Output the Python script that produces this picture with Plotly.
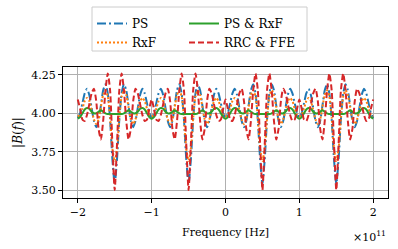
import plotly.graph_objects as go

# Frequency in units of 1e11 Hz, step 1/32
freq = [-2 + k / 32 for k in range(129)]

ps = [
    3.97, 4.00, 4.065, 4.13, 4.16, 4.12, 4.035, 3.95, 3.91, 3.95, 4.05, 4.15, 4.19, 4.13, 3.96, 3.70,
    3.54, 3.70, 3.96, 4.13, 4.19, 4.15, 4.05, 3.95, 3.91, 3.95, 4.035, 4.12, 4.16, 4.13, 4.065, 4.00,
    3.97, 4.00, 4.065, 4.13, 4.16, 4.12, 4.035, 3.95, 3.91, 3.95, 4.05, 4.15, 4.19, 4.13, 3.96, 3.70,
    3.54, 3.70, 3.96, 4.13, 4.19, 4.15, 4.05, 3.95, 3.91, 3.95, 4.035, 4.12, 4.16, 4.13, 4.065, 4.00,
    3.97, 4.00, 4.065, 4.13, 4.16, 4.12, 4.035, 3.95, 3.91, 3.95, 4.05, 4.15, 4.19, 4.13, 3.96, 3.70,
    3.54, 3.70, 3.96, 4.13, 4.19, 4.15, 4.05, 3.95, 3.91, 3.95, 4.035, 4.12, 4.16, 4.13, 4.065, 4.00,
    3.97, 4.00, 4.065, 4.13, 4.16, 4.12, 4.035, 3.95, 3.91, 3.95, 4.05, 4.15, 4.19, 4.13, 3.96, 3.70,
    3.54, 3.70, 3.96, 4.13, 4.19, 4.15, 4.05, 3.95, 3.91, 3.95, 4.035, 4.12, 4.16, 4.13, 4.065, 4.00,
    3.97,
]
rxf = [
    3.98, 3.99, 4.03, 4.08, 4.10, 4.08, 4.02, 3.96, 3.93, 3.96, 4.04, 4.12, 4.15, 4.11, 3.97, 3.77,
    3.69, 3.77, 3.97, 4.11, 4.15, 4.12, 4.04, 3.96, 3.93, 3.96, 4.02, 4.08, 4.10, 4.08, 4.03, 3.99,
    3.98, 3.99, 4.03, 4.08, 4.10, 4.08, 4.02, 3.96, 3.93, 3.96, 4.04, 4.12, 4.15, 4.11, 3.97, 3.77,
    3.69, 3.77, 3.97, 4.11, 4.15, 4.12, 4.04, 3.96, 3.93, 3.96, 4.02, 4.08, 4.10, 4.08, 4.03, 3.99,
    3.98, 3.99, 4.03, 4.08, 4.10, 4.08, 4.02, 3.96, 3.93, 3.96, 4.04, 4.12, 4.15, 4.11, 3.97, 3.77,
    3.69, 3.77, 3.97, 4.11, 4.15, 4.12, 4.04, 3.96, 3.93, 3.96, 4.02, 4.08, 4.10, 4.08, 4.03, 3.99,
    3.98, 3.99, 4.03, 4.08, 4.10, 4.08, 4.02, 3.96, 3.93, 3.96, 4.04, 4.12, 4.15, 4.11, 3.97, 3.77,
    3.69, 3.77, 3.97, 4.11, 4.15, 4.12, 4.04, 3.96, 3.93, 3.96, 4.02, 4.08, 4.10, 4.08, 4.03, 3.99,
    3.98,
]
ps_rxf = [
    3.965, 3.975, 4.00, 4.025, 4.035, 4.03, 4.01, 4.00, 4.00, 4.01, 4.02, 4.01, 4.00, 3.995, 3.995, 3.995,
    3.995, 3.995, 3.995, 3.995, 4.00, 4.01, 4.02, 4.01, 4.00, 4.00, 4.01, 4.03, 4.035, 4.025, 4.00, 3.975,
    3.965, 3.975, 4.00, 4.025, 4.035, 4.03, 4.01, 4.00, 4.00, 4.01, 4.02, 4.01, 4.00, 3.995, 3.995, 3.995,
    3.995, 3.995, 3.995, 3.995, 4.00, 4.01, 4.02, 4.01, 4.00, 4.00, 4.01, 4.03, 4.035, 4.025, 4.00, 3.975,
    3.965, 3.975, 4.00, 4.025, 4.035, 4.03, 4.01, 4.00, 4.00, 4.01, 4.02, 4.01, 4.00, 3.995, 3.995, 3.995,
    3.995, 3.995, 3.995, 3.995, 4.00, 4.01, 4.02, 4.01, 4.00, 4.00, 4.01, 4.03, 4.035, 4.025, 4.00, 3.975,
    3.965, 3.975, 4.00, 4.025, 4.035, 4.03, 4.01, 4.00, 4.00, 4.01, 4.02, 4.01, 4.00, 3.995, 3.995, 3.995,
    3.995, 3.995, 3.995, 3.995, 4.00, 4.01, 4.02, 4.01, 4.00, 4.00, 4.01, 4.03, 4.035, 4.025, 4.00, 3.975,
    3.965,
]
rrc_ffe = [
    4.09, 4.03, 3.96, 3.95, 3.99, 4.06, 4.13, 4.16, 4.08, 3.90, 3.83, 3.95, 4.15, 4.26, 4.15, 3.80,
    3.50, 3.80, 4.15, 4.26, 4.15, 3.95, 3.83, 3.90, 4.08, 4.16, 4.13, 4.06, 3.99, 3.95, 3.96, 4.03,
    4.09, 4.03, 3.96, 3.95, 3.99, 4.06, 4.13, 4.16, 4.08, 3.90, 3.83, 3.95, 4.15, 4.26, 4.15, 3.80,
    3.50, 3.80, 4.15, 4.26, 4.15, 3.95, 3.83, 3.90, 4.08, 4.16, 4.13, 4.06, 3.99, 3.95, 3.96, 4.03,
    4.09, 4.03, 3.96, 3.95, 3.99, 4.06, 4.13, 4.16, 4.08, 3.90, 3.83, 3.95, 4.15, 4.26, 4.15, 3.80,
    3.50, 3.80, 4.15, 4.26, 4.15, 3.95, 3.83, 3.90, 4.08, 4.16, 4.13, 4.06, 3.99, 3.95, 3.96, 4.03,
    4.09, 4.03, 3.96, 3.95, 3.99, 4.06, 4.13, 4.16, 4.08, 3.90, 3.83, 3.95, 4.15, 4.26, 4.15, 3.80,
    3.50, 3.80, 4.15, 4.26, 4.15, 3.95, 3.83, 3.90, 4.08, 4.16, 4.13, 4.06, 3.99, 3.95, 3.96, 4.03,
    4.09,
]

x_ticks = [-2, -1, 0, 1, 2]
x_tick_labels = ["\u22122", "\u22121", "0", "1", "2"]
y_ticks = [3.50, 3.75, 4.00, 4.25]
y_tick_labels = ["3.50", "3.75", "4.00", "4.25"]

FONT = "DejaVu Serif"

fig = go.Figure()
series = [
    ("PS", ps, "#1f77b4", "9px,3px,2px,3px", "legend"),
    ("RxF", rxf, "#ff7f0e", "2px,2px", "legend"),
    ("PS & RxF", ps_rxf, "#2ca02c", "solid", "legend2"),
    ("RRC & FFE", rrc_ffe, "#d62728", "6px,3px", "legend2"),
]
for name, vals, col, dash, leg in series:
    fig.add_trace(go.Scatter(
        x=freq, y=vals, name=name, mode="lines",
        line=dict(color=col, dash=dash, width=2, shape="spline", smoothing=0.6),
        legend=leg,
    ))

L, R, T, B = 63, 10, 67, 51
W, H = 398, 249
pw, ph = W - L - R, H - T - B


def px_x(p):
    return (p - L) / pw


def px_y(p):
    return (H - B - p) / ph


leg_common = dict(
    orientation="v", yanchor="top", xanchor="left",
    bgcolor="rgba(0,0,0,0)", borderwidth=0,
    font=dict(family=FONT, size=12), tracegroupgap=0, itemwidth=30,
)

fig.update_layout(
    width=W, height=H,
    margin=dict(l=L, r=R, t=T, b=B, autoexpand=False),
    paper_bgcolor="white", plot_bgcolor="white",
    font=dict(family=FONT, size=11, color="black"),
    showlegend=True,
    legend=dict(x=px_x(92), y=px_y(9), **leg_common),
    legend2=dict(x=px_x(184), y=px_y(9), **leg_common),
    xaxis=dict(
        range=[-2.2, 2.2], tickvals=x_ticks, ticktext=x_tick_labels,
        showgrid=True, gridcolor="#b0b0b0", gridwidth=0.8,
        showline=True, linecolor="black", linewidth=1, mirror=True,
        ticks="outside", ticklen=4, tickcolor="black", zeroline=False,
        tickfont=dict(size=11),
        title=dict(text="Frequency [Hz]", standoff=10, font=dict(size=11)),
    ),
    yaxis=dict(
        range=[3.448, 4.302], tickvals=y_ticks, ticktext=y_tick_labels,
        showgrid=True, gridcolor="#b0b0b0", gridwidth=0.8,
        showline=True, linecolor="black", linewidth=1, mirror=True,
        ticks="outside", ticklen=4, tickcolor="black", zeroline=False,
        tickfont=dict(size=11),
        title=dict(text="|<i>B</i>(<i>f</i>)|", standoff=6, font=dict(size=12)),
    ),
    shapes=[dict(
        type="rect", xref="paper", yref="paper",
        x0=px_x(92), x1=px_x(307), y0=px_y(51), y1=px_y(7),
        line=dict(color="#cccccc", width=1), fillcolor="rgba(0,0,0,0)",
        layer="above",
    )],
    annotations=[dict(
        text="\u00d710<sup>11</sup>", xref="paper", yref="paper",
        x=1.0, y=px_y(227), xanchor="right", yanchor="top", showarrow=False,
        font=dict(family=FONT, size=11),
    )],
)

fig.write_html(
    "out.html",
    config={"displayModeBar": False},
    post_script="document.body.style.margin='0';document.body.style.padding='0';",
)
